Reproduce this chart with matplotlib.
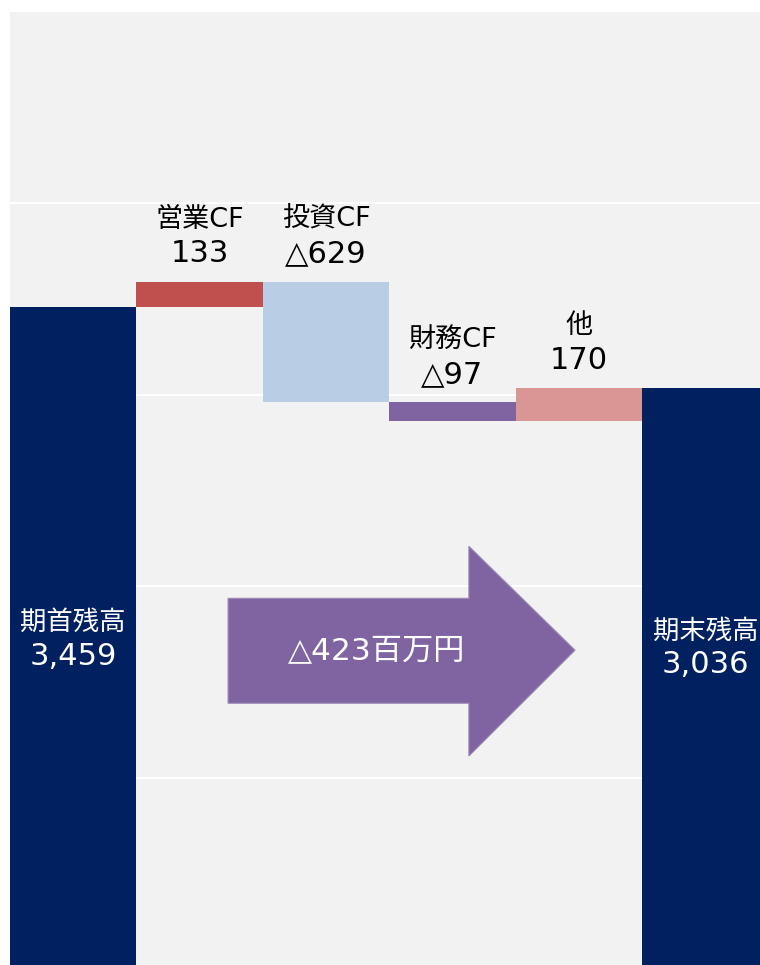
import numpy as np
import matplotlib.pyplot as plt
from matplotlib.patches import Polygon

# DejaVu for the wide digits and △, Noto CJK for the kanji
plt.rcParams['font.family'] = ['DejaVu Sans', 'Noto Sans CJK JP']

# Data (百万円)
labels = ['期首残高', '営業CF', '投資CF', '財務CF', '他', '期末残高']
start_balance = 3459
changes = [133, -629, -97, 170]
end_balance = 3036
change_colors = ['#c0504d', '#b9cde5', '#8064a2', '#d99694']
total_label = '△423百万円'


def fmt(v):
    # negative numbers are written with a triangle
    return ('△' if v < 0 else '') + format(abs(v), ',')


fig = plt.figure(figsize=(7.6, 9.65), dpi=100)
ax = fig.add_axes([10 / 760, 0, 750 / 760, 953 / 965])
ax.set_facecolor('#f2f2f2')

fs_name = 19
fs_num = 22

# Opening balance
x = np.arange(len(labels))
ax.bar(x[0], start_balance, width=1.0, color='#002060', zorder=2)

# Changes, stacked waterfall style
level = start_balance
for i, (v, c) in enumerate(zip(changes, change_colors)):
    bottom = level if v >= 0 else level + v
    ax.bar(x[i + 1], abs(v), bottom=bottom, width=1.0, color=c, zorder=2)
    top = bottom + abs(v)
    ax.annotate(fmt(v), (x[i + 1], top), xytext=(0, 20),
                textcoords='offset points', ha='center', va='center',
                fontsize=fs_num, color='black', zorder=4)
    ax.annotate(labels[i + 1], (x[i + 1], top), xytext=(0, 44.5),
                textcoords='offset points', ha='center', va='center',
                fontsize=19.5, color='black', zorder=4)
    level += v

# Closing balance
ax.bar(x[-1], end_balance, width=1.0, color='#002060', zorder=2)

# labels inside the balance bars
ax.text(x[0], 1812, labels[0], ha='center', va='center', color='white',
        fontsize=fs_name, zorder=4)
ax.text(x[0], 1636, fmt(start_balance), ha='center', va='center',
        color='white', fontsize=fs_num, zorder=4)
ax.text(x[-1], 1765, labels[-1], ha='center', va='center', color='white',
        fontsize=fs_name, zorder=4)
ax.text(x[-1], 1594, fmt(end_balance), ha='center', va='center',
        color='white', fontsize=fs_num, zorder=4)

# Big arrow showing the net change
arrow = Polygon([(1.225, 1390), (3.13, 1390), (3.13, 1114), (3.97, 1667),
                 (3.13, 2210), (3.13, 1938), (1.225, 1938)],
                closed=True, facecolor='#8064a2', edgecolor='#9d8ab8',
                linewidth=0.8, zorder=3)
ax.add_patch(arrow)
ax.text(2.4, 1662, total_label, ha='center', va='center', color='white',
        fontsize=22.5, zorder=4)

ax.set_xlim(-0.5, 5.433)
ax.set_ylim(23, 5000)
ax.set_yticks([1000, 2000, 3000, 4000])
ax.grid(axis='y', color='white', linewidth=1.5, zorder=1)
ax.tick_params(left=False, bottom=False, labelleft=False, labelbottom=False)
for s in ax.spines.values():
    s.set_visible(False)

fig.savefig('out.png', dpi=100, facecolor='white')
